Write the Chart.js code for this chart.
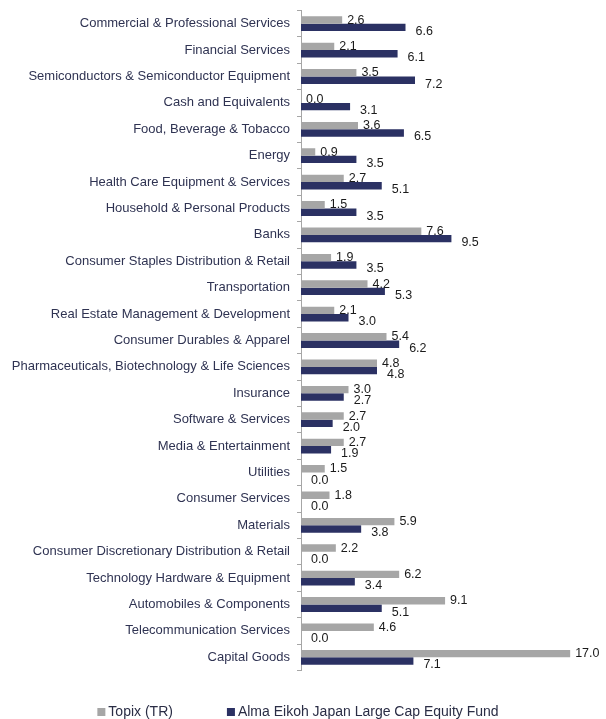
<!DOCTYPE html>
<html>
<head>
<meta charset="utf-8">
<script src="https://cdn.jsdelivr.net/npm/chart.js@4/dist/chart.umd.min.js"></script>
<style>
  html, body { margin: 0; padding: 0; background: #ffffff; }
  #wrap { width: 606px; height: 719px; position: relative; }
</style>
</head>
<body>
<div id="wrap"><canvas id="c" width="606" height="719"></canvas></div>
<script>
const categories = [
  "Commercial & Professional Services",
  "Financial Services",
  "Semiconductors & Semiconductor Equipment",
  "Cash and Equivalents",
  "Food, Beverage & Tobacco",
  "Energy",
  "Health Care Equipment & Services",
  "Household & Personal Products",
  "Banks",
  "Consumer Staples Distribution & Retail",
  "Transportation",
  "Real Estate Management & Development",
  "Consumer Durables & Apparel",
  "Pharmaceuticals, Biotechnology & Life Sciences",
  "Insurance",
  "Software & Services",
  "Media & Entertainment",
  "Utilities",
  "Consumer Services",
  "Materials",
  "Consumer Discretionary Distribution & Retail",
  "Technology Hardware & Equipment",
  "Automobiles & Components",
  "Telecommunication Services",
  "Capital Goods"
];
const topixValues = [2.6, 2.1, 3.5, 0.0, 3.6, 0.9, 2.7, 1.5, 7.6, 1.9, 4.2, 2.1, 5.4, 4.8, 3.0, 2.7, 2.7, 1.5, 1.8, 5.9, 2.2, 6.2, 9.1, 4.6, 17.0];
const fundValues  = [6.6, 6.1, 7.2, 3.1, 6.5, 3.5, 5.1, 3.5, 9.5, 3.5, 5.3, 3.0, 6.2, 4.8, 2.7, 2.0, 1.9, 0.0, 0.0, 3.8, 0.0, 3.4, 5.1, 0.0, 7.1];
const seriesNames = ["Topix (TR)", "Alma Eikoh Japan Large Cap Equity Fund"];
const seriesColors = ["#a6a6a6", "#2b3163"];

const valueLabels = {
  id: 'valueLabels',
  afterDatasetsDraw(chart) {
    const ctx = chart.ctx;
    ctx.save();
    ctx.font = '12.5px "Liberation Sans", Arial, sans-serif';
    ctx.fillStyle = '#1a1a1a';
    ctx.textAlign = 'left';
    ctx.textBaseline = 'alphabetic';
    chart.data.datasets.forEach((ds, di) => {
      const meta = chart.getDatasetMeta(di);
      meta.data.forEach((bar, i) => {
        const v = ds.data[i];
        const dx = di === 0 ? 5 : 10;
        const dy = di === 0 ? -1 : 3;
        ctx.fillText(v.toFixed(1), bar.x + dx, bar.y + dy + 4.5);
      });
    });
    ctx.restore();
  }
};

const customLegend = {
  id: 'customLegend',
  afterDraw(chart) {
    const ctx = chart.ctx;
    ctx.save();
    ctx.font = '14px "Liberation Sans", Arial, sans-serif';
    ctx.textBaseline = 'middle';
    ctx.textAlign = 'left';
    const box = 8, gapBox = 3, gapItem = 54;
    const widths = seriesNames.map(n => box + gapBox + ctx.measureText(n).width);
    const total = widths.reduce((a, b) => a + b, 0) + gapItem * (widths.length - 1);
    let x = 298 - total / 2;
    const y = 712;
    seriesNames.forEach((n, i) => {
      ctx.fillStyle = seriesColors[i];
      ctx.fillRect(x, y - 4, box, box);
      ctx.fillStyle = '#2a2d45';
      ctx.fillText(n, x + box + gapBox, y);
      x += widths[i] + gapItem;
    });
    ctx.restore();
  }
};

new Chart(document.getElementById('c'), {
  type: 'bar',
  data: {
    labels: categories,
    datasets: [
      { label: seriesNames[0], data: topixValues, backgroundColor: seriesColors[0], categoryPercentage: 0.56, barPercentage: 1.0 },
      { label: seriesNames[1], data: fundValues, backgroundColor: seriesColors[1], categoryPercentage: 0.56, barPercentage: 1.0 }
    ]
  },
  options: {
    indexAxis: 'y',
    responsive: false,
    animation: false,
    devicePixelRatio: 1,
    layout: { padding: { left: 0, right: 20, top: 10.5, bottom: 48.5 } },
    plugins: {
      legend: { display: false },
      tooltip: { enabled: false }
    },
    scales: {
      x: { display: false, min: 0, max: 18 },
      y: {
        afterFit(scale) { scale.width = 301; scale.paddingTop = 0; scale.paddingBottom = 0; },
        grid: { display: true, drawOnChartArea: false, drawTicks: true, tickLength: 4, color: '#a6a6a6', offset: true },
        border: { display: true, color: '#a6a6a6', width: 1 },
        ticks: {
          autoSkip: false,
          padding: 7,
          color: '#2f3352',
          font: { family: '"Liberation Sans", Arial, sans-serif', size: 13 }
        }
      }
    }
  },
  plugins: [valueLabels, customLegend]
});
</script>
</body>
</html>
